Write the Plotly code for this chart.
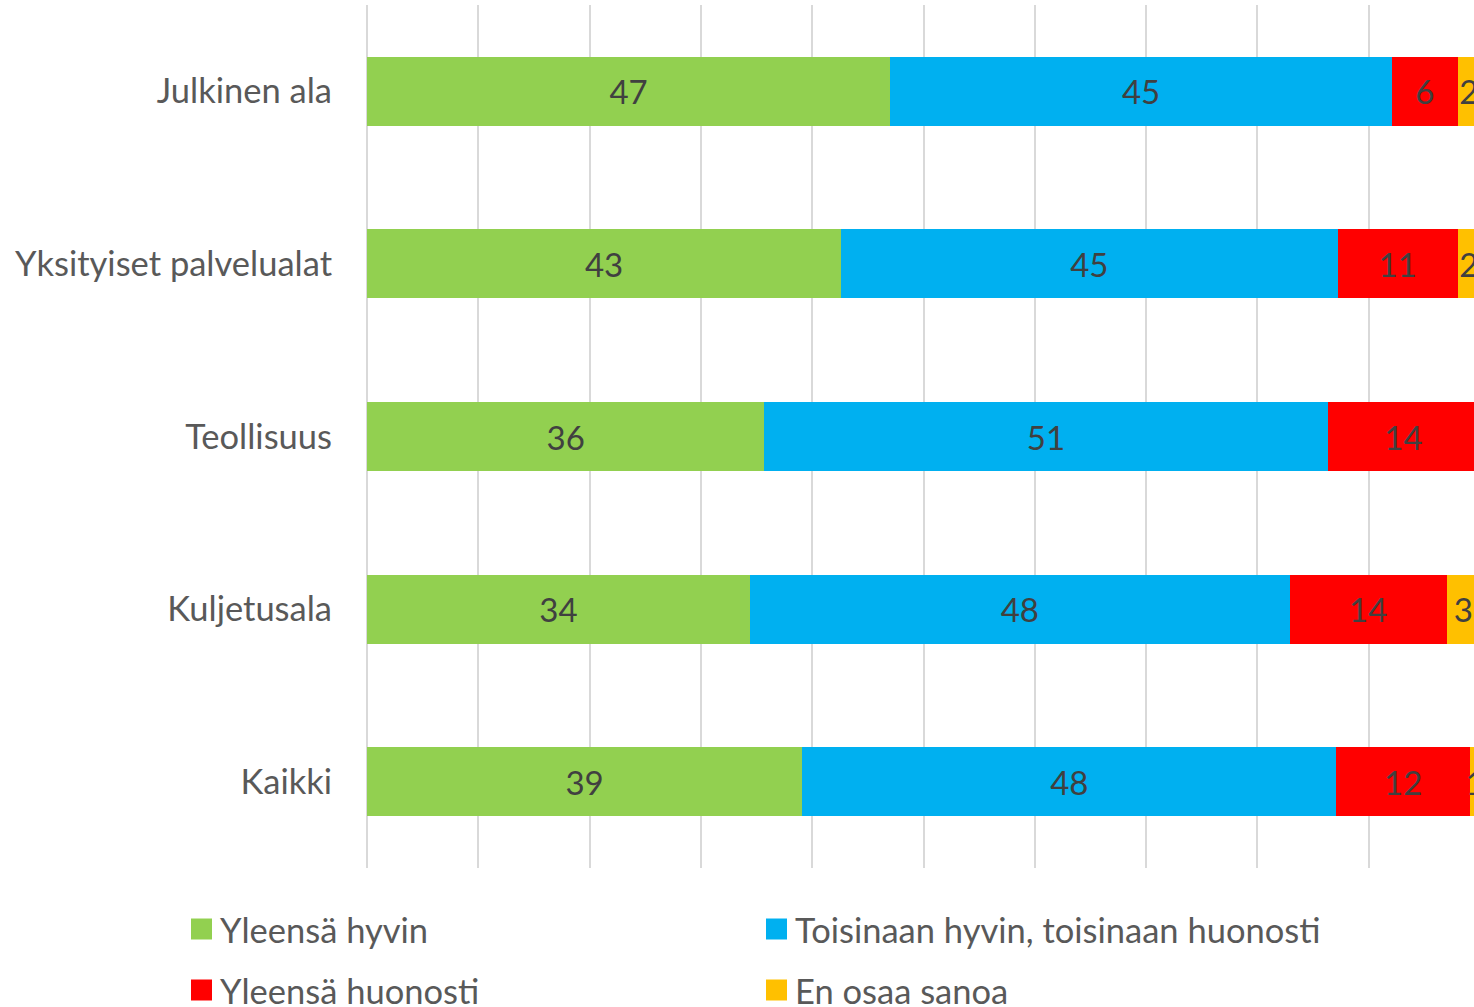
import plotly.graph_objects as go

categories = ["Julkinen ala", "Yksityiset palvelualat", "Teollisuus", "Kuljetusala", "Kaikki"]
series_names = ["Yleensä hyvin", "Toisinaan hyvin, toisinaan huonosti", "Yleensä huonosti", "En osaa sanoa"]
yleensa_hyvin = [47.0, 42.6, 35.7, 34.4, 39.1]
toisinaan = [45.1, 44.6, 50.6, 48.5, 48.0]
yleensa_huonosti = [5.9, 10.8, 13.65, 14.1, 12.0]
en_osaa = [2.0, 2.0, 0.0, 3.0, 0.9]
colors = ["#92D050", "#00B0F0", "#FF0000", "#FFC000"]

# the chart runs slightly past the right edge of the window, as in the reference
W, H = 1481, 1007
L, R, T, B = 367, 1480, 5, 868  # plot area pixel bounds

fig = go.Figure()
for name, vals, col in zip(series_names, [yleensa_hyvin, toisinaan, yleensa_huonosti, en_osaa], colors):
    fig.add_trace(go.Bar(
        y=categories, x=vals, name=name, orientation="h",
        marker=dict(color=col, line=dict(width=0)),
        text=[f"{v:.0f}" if v > 0 else "" for v in vals],
        textposition="inside", insidetextanchor="middle",
        textfont=dict(family="Lato", size=33, color="#404040"),
        constraintext="none", cliponaxis=False,
        showlegend=False,
    ))

def px_x(p):
    return (p - L) / (R - L)

def px_y(p):
    return (B - p) / (B - T)

# manual legend (large squares as in the reference)
legend_pos = [(191, 929), (766, 929), (191, 990), (766, 990)]
for (lx, ly), name, col in zip(legend_pos, series_names, colors):
    fig.add_shape(type="rect", xref="paper", yref="paper",
                  x0=px_x(lx), x1=px_x(lx + 21), y0=px_y(ly + 10.5), y1=px_y(ly - 10.5),
                  fillcolor=col, line=dict(width=0))
    fig.add_annotation(xref="paper", yref="paper", x=px_x(lx + 27), y=px_y(ly),
                       text=name, showarrow=False, xanchor="left", yanchor="middle",
                       font=dict(family="Lato", size=34.5, color="#595959"))

fig.update_layout(
    width=W, height=H,
    margin=dict(l=L, r=W - R, t=T, b=H - B, pad=0),
    barmode="stack", bargap=0.6,
    plot_bgcolor="white", paper_bgcolor="white",
    xaxis=dict(range=[0, 100], dtick=10, tick0=0, showgrid=True,
               gridcolor="#D9D9D9", gridwidth=1.5, zeroline=True, zerolinecolor="#D9D9D9",
               zerolinewidth=1.5, showticklabels=False, showline=False, fixedrange=True),
    yaxis=dict(categoryorder="array", categoryarray=categories, autorange="reversed",
               showgrid=False, showline=False, ticks="", ticklabelstandoff=34,
               tickfont=dict(family="Lato", size=34.5, color="#595959")),
)

fig.write_html(
    "out.html",
    config={"displayModeBar": False},
    post_script="document.body.style.margin='0';document.body.style.overflow='hidden';",
)
